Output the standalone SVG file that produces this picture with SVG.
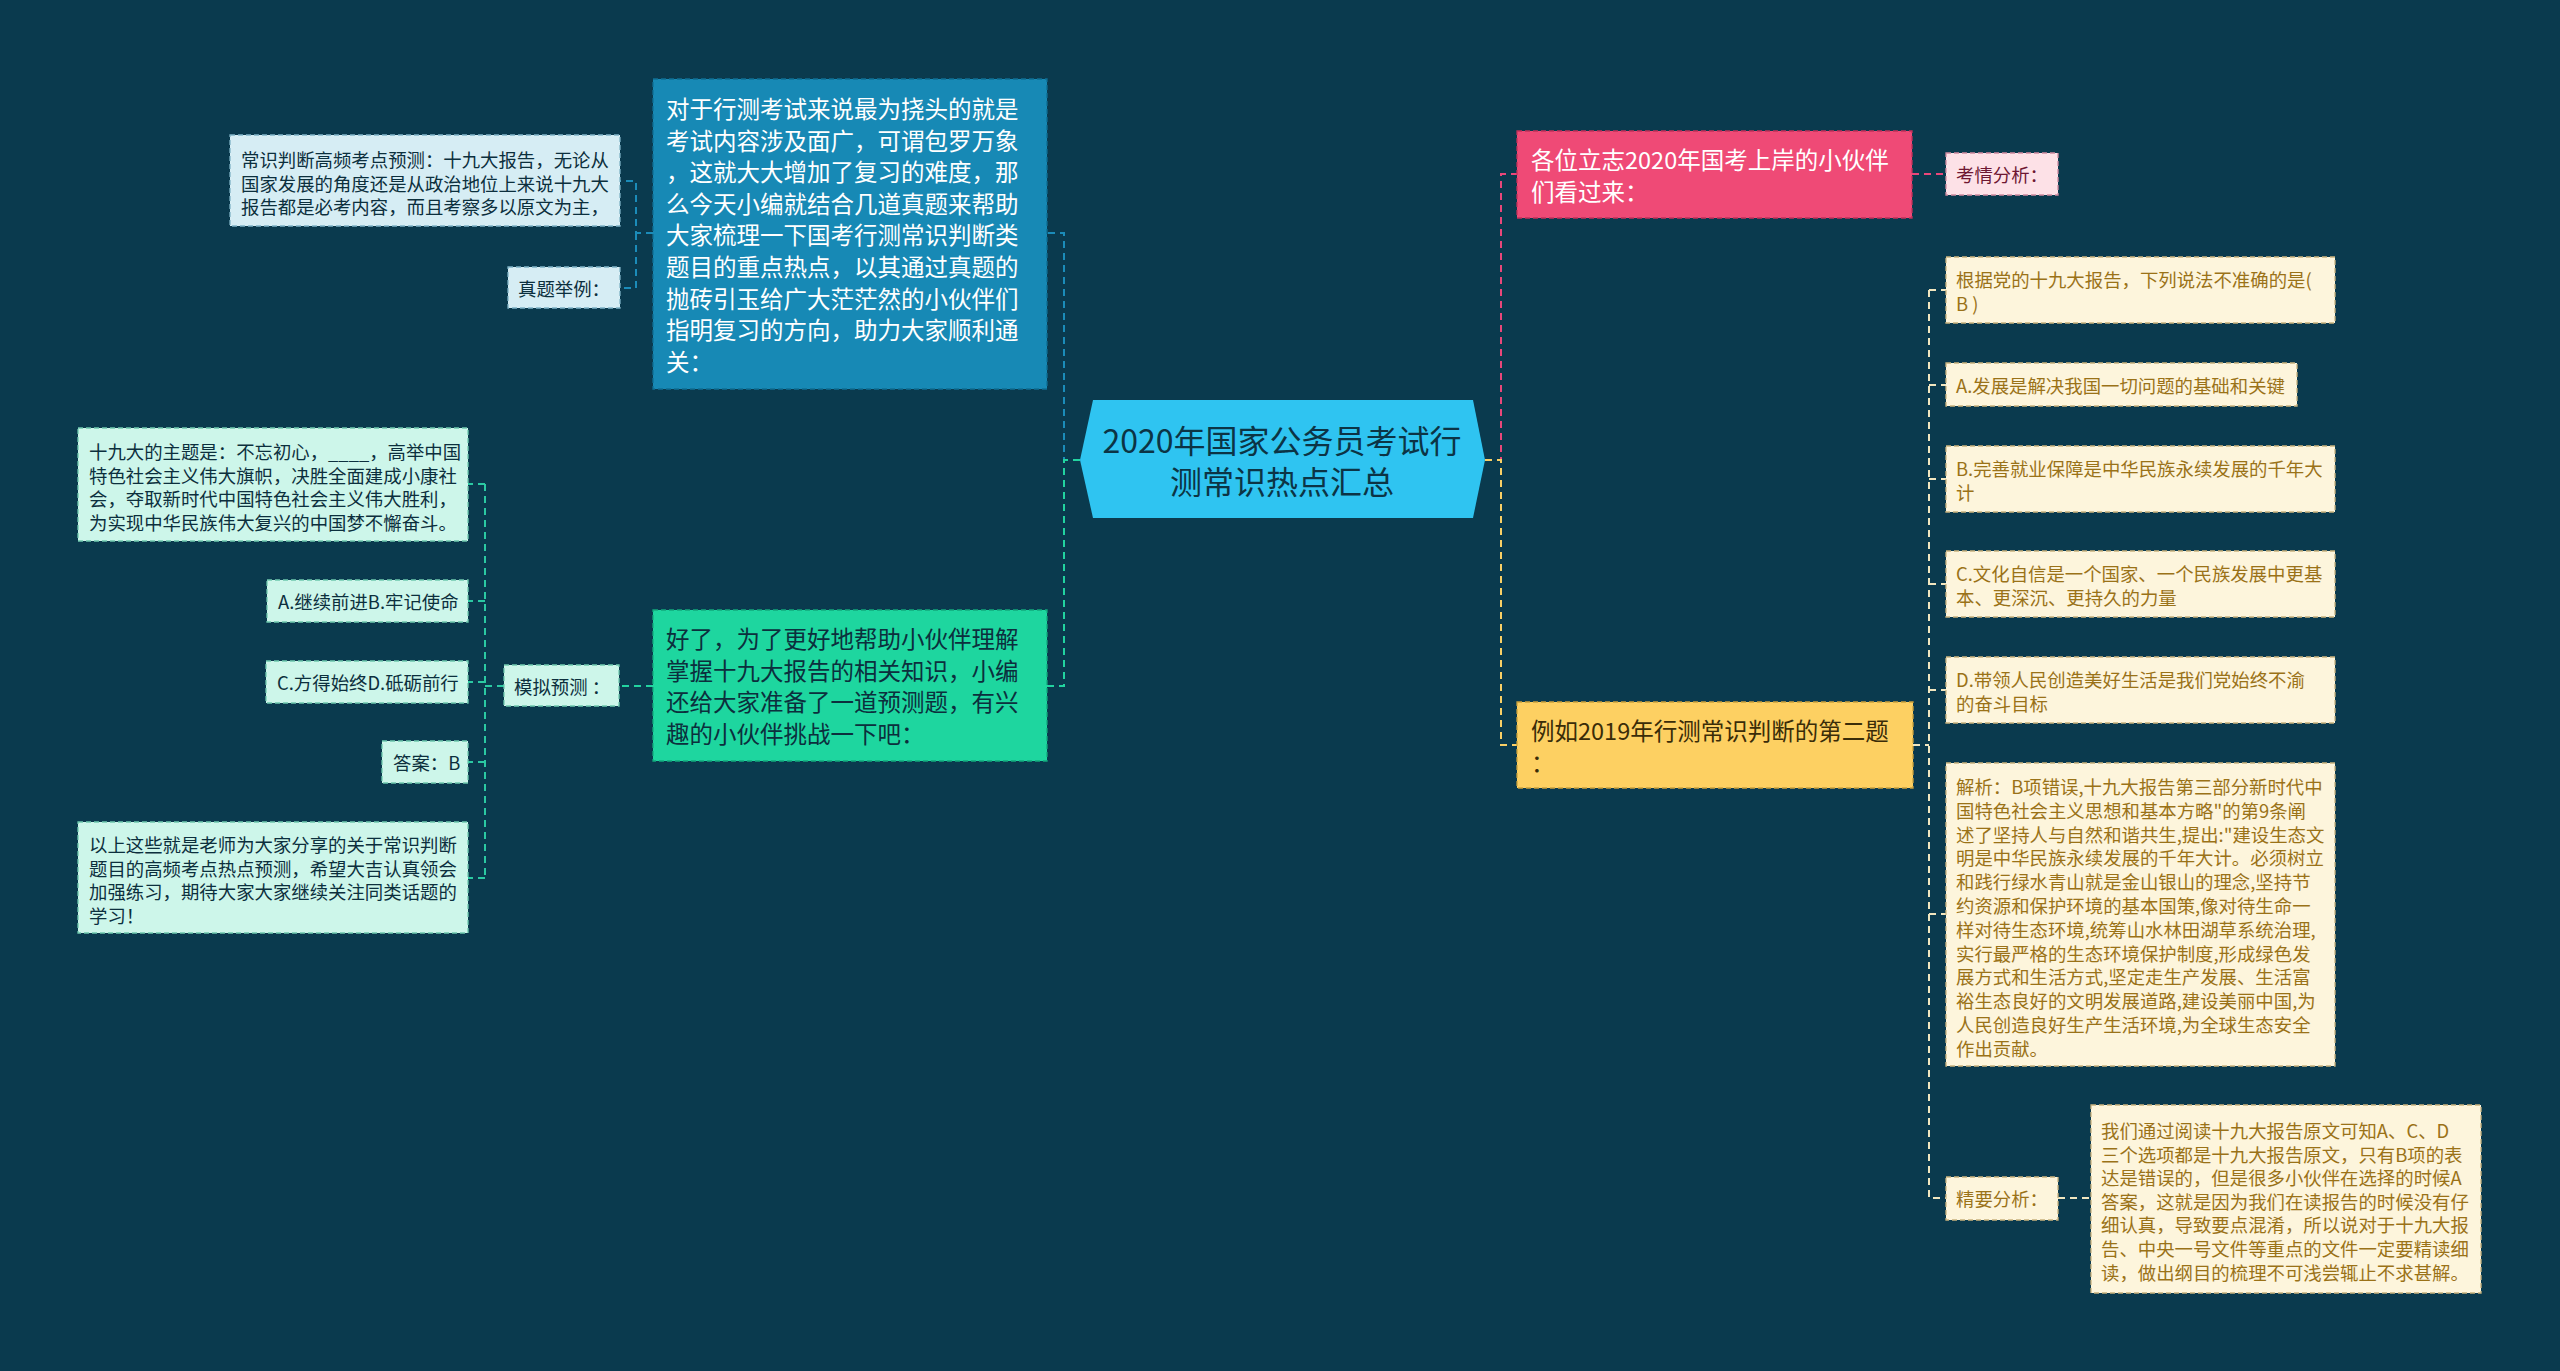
<svg xmlns="http://www.w3.org/2000/svg" width="2560" height="1371" viewBox="0 0 2560 1371">
<style>
text{font-family:"Noto Sans CJK SC","Noto Sans",sans-serif;dominant-baseline:central}
.main{font-size:23.5px}
.small{font-size:18.4px}
.conn path{fill:none;stroke-width:2;stroke-dasharray:7 5}
.cb{stroke:#1b8cb9}.cg{stroke:#22d3a0}.cp{stroke:#e9477a}.cy{stroke:#f9cf66}.cc{stroke:#f1e6bf}.cm{stroke:#2bc9a2}
.box{stroke-width:1.3;stroke-dasharray:5 3}
.nb{fill:#1789b5;stroke:#0f6d93}
.ngr{fill:#1ed69f;stroke:#12a97c}
.npk{fill:#ef4a76;stroke:#c2305a}
.nyl{fill:#fdd062;stroke:#c9a03c}
.lb{fill:#d6edf4;stroke:#7fb3c6}
.mt{fill:#cdf6ea;stroke:#6fc9ae}
.lp{fill:#fde1e7;stroke:#d08aa0}
.cr{fill:#fdf5dc;stroke:#c9b27e}
.tw{fill:#ffffff}.td{fill:#0c2f3d}.tg{fill:#9a7218}.tpk{fill:#6e1732}.tyd{fill:#3a2c08}
</style>
<rect x="0" y="0" width="2560" height="1371" fill="#0a3a4e"/>

<g id="connectors" class="conn">
<path class="cb" d="M1080,460 H1064 V233 H1047"/>
<path class="cg" d="M1080,460 H1064 V686 H1047"/>
<path class="cp" d="M1485,460 H1501 V174 H1517"/>
<path class="cy" d="M1485,460 H1501 V745 H1517"/>
<path class="cb" d="M653,233 H636 V181 H620 M636,233 V288 H620"/>
<path class="cg" d="M653,686 H619"/>
<path class="cm" d="M504,686 H485 M485,484 V878 M485,484 H468 M485,601 H468 M485,682 H468 M485,762 H468 M485,878 H468"/>
<path class="cp" d="M1912,174 H1946"/>
<path class="cc" d="M1913,745 H1929 M1929,290 V1198 H1946 M1929,290 H1946 M1929,385 H1946 M1929,479 H1946 M1929,584 H1946 M1929,690 H1946 M1929,914 H1946 M2058,1198 H2091"/>
</g>

<g id="center">
<polygon points="1080,460 1093,400 1473,400 1485,460 1473,518 1093,518" fill="#2fc4f1"/>
<text x="1282" y="439" text-anchor="middle" font-size="32" fill="#0c3445">2020年国家公务员考试行</text>
<text x="1282" y="480" text-anchor="middle" font-size="32" fill="#0c3445">测常识热点汇总</text>
</g>

<g id="node-intro">
<rect class="box nb" x="653" y="79" width="394" height="310"/>
<text class="main tw" x="666">
<tspan x="666" y="108">对于行测考试来说最为挠头的就是</tspan>
<tspan x="666" y="139.6">考试内容涉及面广，可谓包罗万象</tspan>
<tspan x="666" y="171.2">，这就大大增加了复习的难度，那</tspan>
<tspan x="666" y="202.8">么今天小编就结合几道真题来帮助</tspan>
<tspan x="666" y="234.4">大家梳理一下国考行测常识判断类</tspan>
<tspan x="666" y="266">题目的重点热点，以其通过真题的</tspan>
<tspan x="666" y="297.6">抛砖引玉给广大茫茫然的小伙伴们</tspan>
<tspan x="666" y="329.2">指明复习的方向，助力大家顺利通</tspan>
<tspan x="666" y="360.8">关：</tspan>
</text>
</g>

<g id="node-forecast-intro">
<rect class="box lb" x="230" y="135" width="390" height="91"/>
<text class="small td">
<tspan x="241" y="159">常识判断高频考点预测：十九大报告，无论从</tspan>
<tspan x="241" y="182.5">国家发展的角度还是从政治地位上来说十九大</tspan>
<tspan x="241" y="206">报告都是必考内容，而且考察多以原文为主，</tspan>
</text>
</g>

<g id="node-example">
<rect class="box lb" x="508" y="267" width="112" height="41"/>
<text class="small td" x="518" y="288">真题举例：</text>
</g>

<g id="node-practice">
<rect class="box ngr" x="653" y="610" width="394" height="151"/>
<text class="main td">
<tspan x="666" y="638">好了，为了更好地帮助小伙伴理解</tspan>
<tspan x="666" y="669.6">掌握十九大报告的相关知识，小编</tspan>
<tspan x="666" y="701.2">还给大家准备了一道预测题，有兴</tspan>
<tspan x="666" y="732.8">趣的小伙伴挑战一下吧：</tspan>
</text>
</g>

<g id="node-mock">
<rect class="box mt" x="504" y="665" width="115" height="41"/>
<text class="small td" x="514" y="686">模拟预测 ：</text>
</g>

<g id="node-theme">
<rect class="box mt" x="78" y="428" width="390" height="113"/>
<text class="small td">
<tspan x="89" y="451">十九大的主题是：不忘初心，____，高举中国</tspan>
<tspan x="89" y="474.5">特色社会主义伟大旗帜，决胜全面建成小康社</tspan>
<tspan x="89" y="498">会，夺取新时代中国特色社会主义伟大胜利，</tspan>
<tspan x="89" y="521.5">为实现中华民族伟大复兴的中国梦不懈奋斗。</tspan>
</text>
</g>

<g id="node-ab">
<rect class="box mt" x="267" y="580" width="201" height="42"/>
<text class="small td" x="278" y="601">A.继续前进B.牢记使命</text>
</g>

<g id="node-cd">
<rect class="box mt" x="266" y="661" width="202" height="42"/>
<text class="small td" x="277" y="682">C.方得始终D.砥砺前行</text>
</g>

<g id="node-answer">
<rect class="box mt" x="382" y="741" width="86" height="42"/>
<text class="small td" x="393" y="762">答案：B</text>
</g>

<g id="node-summary">
<rect class="box mt" x="78" y="822" width="390" height="111"/>
<text class="small td">
<tspan x="89" y="844">以上这些就是老师为大家分享的关于常识判断</tspan>
<tspan x="89" y="867.5">题目的高频考点热点预测，希望大吉认真领会</tspan>
<tspan x="89" y="891">加强练习，期待大家大家继续关注同类话题的</tspan>
<tspan x="89" y="914.5">学习！</tspan>
</text>
</g>

<g id="node-look">
<rect class="box npk" x="1517" y="131" width="395" height="87"/>
<text class="main tw">
<tspan x="1531" y="159">各位立志2020年国考上岸的小伙伴</tspan>
<tspan x="1531" y="190.6">们看过来：</tspan>
</text>
</g>

<g id="node-situation">
<rect class="box lp" x="1946" y="153" width="112" height="42"/>
<text class="small tpk" x="1956" y="174">考情分析：</text>
</g>

<g id="node-example2019">
<rect class="box nyl" x="1517" y="702" width="396" height="86"/>
<text class="main tyd">
<tspan x="1531" y="730">例如2019年行测常识判断的第二题</tspan>
<tspan x="1531" y="761.6">：</tspan>
</text>
</g>

<g id="node-question">
<rect class="box cr" x="1946" y="257" width="389" height="66"/>
<text class="small tg">
<tspan x="1956" y="279">根据党的十九大报告，下列说法不准确的是(</tspan>
<tspan x="1956" y="302.5">B )</tspan>
</text>
</g>

<g id="node-optA">
<rect class="box cr" x="1946" y="363" width="351" height="43"/>
<text class="small tg" x="1956" y="385">A.发展是解决我国一切问题的基础和关键</text>
</g>

<g id="node-optB">
<rect class="box cr" x="1946" y="446" width="389" height="66"/>
<text class="small tg">
<tspan x="1956" y="468">B.完善就业保障是中华民族永续发展的千年大</tspan>
<tspan x="1956" y="491.5">计</tspan>
</text>
</g>

<g id="node-optC">
<rect class="box cr" x="1946" y="551" width="389" height="66"/>
<text class="small tg">
<tspan x="1956" y="573">C.文化自信是一个国家、一个民族发展中更基</tspan>
<tspan x="1956" y="596.5">本、更深沉、更持久的力量</tspan>
</text>
</g>

<g id="node-optD">
<rect class="box cr" x="1946" y="657" width="389" height="66"/>
<text class="small tg">
<tspan x="1956" y="679">D.带领人民创造美好生活是我们党始终不渝</tspan>
<tspan x="1956" y="702.5">的奋斗目标</tspan>
</text>
</g>

<g id="node-analysis">
<rect class="box cr" x="1946" y="763" width="389" height="303"/>
<text class="small tg">
<tspan x="1956" y="786">解析：B项错误,十九大报告第三部分新时代中</tspan>
<tspan x="1956" y="809.8">国特色社会主义思想和基本方略"的第9条阐</tspan>
<tspan x="1956" y="833.6">述了坚持人与自然和谐共生,提出:"建设生态文</tspan>
<tspan x="1956" y="857.4">明是中华民族永续发展的千年大计。必须树立</tspan>
<tspan x="1956" y="881.2">和践行绿水青山就是金山银山的理念,坚持节</tspan>
<tspan x="1956" y="905">约资源和保护环境的基本国策,像对待生命一</tspan>
<tspan x="1956" y="928.8">样对待生态环境,统筹山水林田湖草系统治理,</tspan>
<tspan x="1956" y="952.6">实行最严格的生态环境保护制度,形成绿色发</tspan>
<tspan x="1956" y="976.4">展方式和生活方式,坚定走生产发展、生活富</tspan>
<tspan x="1956" y="1000.2">裕生态良好的文明发展道路,建设美丽中国,为</tspan>
<tspan x="1956" y="1024">人民创造良好生产生活环境,为全球生态安全</tspan>
<tspan x="1956" y="1047.8">作出贡献。</tspan>
</text>
</g>

<g id="node-keypoint">
<rect class="box cr" x="1946" y="1177" width="112" height="43"/>
<text class="small tg" x="1956" y="1198">精要分析：</text>
</g>

<g id="node-keytext">
<rect class="box cr" x="2091" y="1105" width="390" height="188"/>
<text class="small tg">
<tspan x="2101" y="1130">我们通过阅读十九大报告原文可知A、C、D</tspan>
<tspan x="2101" y="1153.6">三个选项都是十九大报告原文，只有B项的表</tspan>
<tspan x="2101" y="1177.2">达是错误的，但是很多小伙伴在选择的时候A</tspan>
<tspan x="2101" y="1200.8">答案，这就是因为我们在读报告的时候没有仔</tspan>
<tspan x="2101" y="1224.4">细认真，导致要点混淆，所以说对于十九大报</tspan>
<tspan x="2101" y="1248">告、中央一号文件等重点的文件一定要精读细</tspan>
<tspan x="2101" y="1271.6">读，做出纲目的梳理不可浅尝辄止不求甚解。</tspan>
</text>
</g>
</svg>
